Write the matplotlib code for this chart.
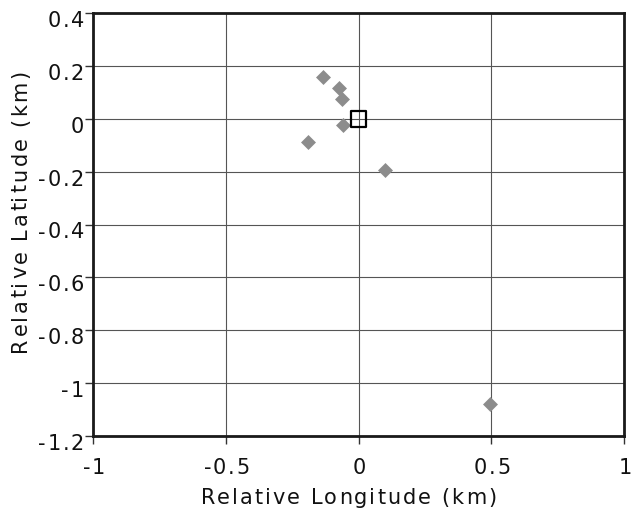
import matplotlib
matplotlib.use("Agg")
import matplotlib.pyplot as plt
from matplotlib.font_manager import FontProperties, findfont, get_font

# ---- Daten ----
lon = [-0.134, -0.073, -0.062, -0.058, -0.190, 0.100, 0.495]
lat = [0.158, 0.116, 0.075, -0.024, -0.088, -0.194, -1.079]
ref_lon = [0.0]
ref_lat = [0.0]

x_ticks = [-1, -0.5, 0, 0.5, 1]
x_labels = ["-1", "-0.5", "0", "0.5", "1"]
y_ticks = [0.4, 0.2, 0, -0.2, -0.4, -0.6, -0.8, -1, -1.2]
y_labels = ["0.4", "0.2", "0", "-0.2", "-0.4", "-0.6", "-0.8", "-1", "-1.2"]

W, H, DPI = 631, 510, 100
FS = 15
plt.rcParams["font.family"] = ["DejaVu Sans"]

fig = plt.figure(figsize=(W / DPI, H / DPI), dpi=DPI)
ax = fig.add_axes([93 / W, 1 - 437 / H, (624 - 93) / W, (437 - 14) / H])

_font = get_font(findfont(FontProperties(family="DejaVu Sans")))


def advances(s, size):
    _font.set_size(size, DPI)
    return [_font.load_char(ord(c)).linearHoriAdvance / 65536 for c in s]


def spaced(x, y, s, size=FS, sp=2.0, ha="center", vertical=False, color="#111111"):
    # Text mit Buchstabenabstand, Zeichen fuer Zeichen (Pixelkoordinaten)
    adv = advances(s, size)
    total = sum(adv) + sp * (len(s) - 1)
    pos = {"center": -total / 2, "right": -total, "left": 0}[ha]
    pos += y if vertical else x
    for c, a in zip(s, adv):
        if c != " ":
            if vertical:
                fig.text(x / W, pos / H, c, fontsize=size, rotation=90,
                         rotation_mode="anchor", ha="left", va="baseline", color=color)
            else:
                fig.text(pos / W, y / H, c, fontsize=size,
                         ha="left", va="baseline", color=color)
        pos += a + sp


ax.scatter(lon, lat, marker="D", s=58, color="#8c8c8c", zorder=3, linewidths=0)
ax.scatter(ref_lon, ref_lat, marker="s", s=130, facecolors="none",
           edgecolors="black", linewidths=1.6, zorder=4)

ax.set_xlim(-1, 1)
ax.set_ylim(-1.2, 0.4)
ax.set_xticks(x_ticks)
ax.set_yticks(y_ticks)
ax.set_xticklabels([])
ax.set_yticklabels([])
ax.grid(True, color="#555555", linewidth=0.8)
ax.set_axisbelow(True)

for s in ax.spines.values():
    s.set_linewidth(2)
    s.set_color("#1a1a1a")
ax.tick_params(direction="out", length=6, width=1.0, color="#333333")

# Tick-Beschriftungen
for t, lab in zip(x_ticks, x_labels):
    px = ax.transData.transform((t, 0))[0]
    spaced(px + 1, H - 474, lab, sp=1.7)
for t, lab in zip(y_ticks, y_labels):
    py = ax.transData.transform((0, t))[1]
    spaced(84, py - 13, lab, sp=1.7, ha="right")

# Achsentitel
spaced(348.5, H - 504, "Relative Longitude (km)", sp=2.0)
spaced(26.5, H - 211, "Relative Latitude (km)", sp=2.33, vertical=True)

fig.savefig("out.png", dpi=DPI)
